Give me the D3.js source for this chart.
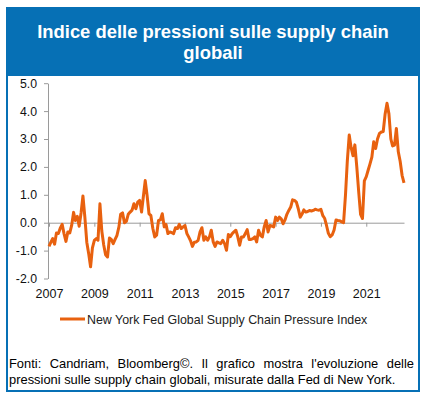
<!DOCTYPE html>
<html>
<head>
<meta charset="utf-8">
<script src="https://cdn.jsdelivr.net/npm/d3@7"></script>
<style>
  body { margin: 0; background: #fff; }
  text { font-family: "Liberation Sans", Arial, sans-serif; }
</style>
</head>
<body>
<svg id="chart" width="426" height="399"></svg>
<script>
// --- Data: NY Fed GSCPI, monthly from Jan 2007 ---
const startDate = new Date(2007, 0, 1);
const gscpi = [
  -0.85, -0.70, -0.57, -0.77, -0.37, -0.39, -0.20, -0.06, -0.40, -0.67, -0.33, -0.37,
  -0.10, 0.37, 0.08, 0.23, -0.13, 0.35, 0.96, 0.20, -0.70, -1.10, -1.58, -0.90,
  -0.63, -0.57, -0.63, 0.68, -0.30, -0.80, -1.15, -1.23, -0.55, -0.60, -0.75, -0.60,
  -0.45, -0.15, 0.30, 0.35, 0.00, 0.05, 0.30, 0.38, 0.45, 0.68, 0.50, 0.74,
  0.80, 0.38, 0.92, 1.51, 0.98, 0.32, 0.26, -0.20, -0.51, -0.45, 0.08, 0.10,
  0.32, -0.15, -0.06, -0.39, -0.33, -0.36, -0.39, -0.18, -0.21, -0.06, -0.21, -0.15,
  -0.10, -0.39, -0.51, -0.65, -0.85, -0.70, -0.69, -0.63, -0.33, -0.18, -0.63, -0.51,
  -0.63, -0.50, -0.27, -0.69, -0.85, -0.69, -0.72, -0.75, -0.63, -0.75, -0.99, -0.42,
  -0.50, -0.39, -0.33, -0.27, -0.50, -0.81, -0.51, -0.51, -0.39, -0.25, -0.60, -0.60,
  -0.57, -0.51, -0.69, -0.27, -0.45, -0.51, -0.15, 0.08, -0.33, -0.10, -0.12, -0.15,
  0.20, 0.08, 0.20, 0.14, -0.04, 0.10, 0.30, 0.44, 0.56, 0.82, 0.80, 0.74,
  0.50, 0.20, 0.30, 0.46, 0.38, 0.40, 0.44, 0.42, 0.44, 0.48, 0.46, 0.45,
  0.48, 0.25, 0.16, -0.10, -0.38, -0.50, -0.44, -0.26, 0.10, 0.08, 0.07, 0.03,
  0.00, 1.00, 2.20, 3.14, 2.70, 2.40, 2.79, 2.00, 1.10, 0.30, 0.15, 1.50,
  1.65, 1.89, 2.10, 2.35, 2.90, 2.66, 3.00, 3.20, 3.25, 3.27, 3.90, 4.28,
  3.90, 3.00, 2.75, 2.78, 3.38, 2.54, 2.20, 1.70, 1.43
];
const yTicks = [-2, -1, 0, 1, 2, 3, 4, 5];
const xTickYears = [2007, 2009, 2011, 2013, 2015, 2017, 2019, 2021];

const titleLines = ["Indice delle pressioni sulle supply chain", "globali"];
const legendLabel = "New York Fed Global Supply Chain Pressure Index";
const sourceLines = [
  "Fonti: Candriam, Bloomberg\u00A9. Il grafico mostra l'evoluzione delle",
  "pressioni sulle supply chain globali, misurate dalla Fed di New York."
];

const blue = "#0670b5";
const orange = "#e8610f";
const axisGrey = "#9a9a9a";

const series = gscpi.map((v, i) => ({ date: d3.timeMonth.offset(startDate, i), value: v }));

const svg = d3.select("#chart");

// frame + title bar
svg.append("rect")
  .attr("x", 7).attr("y", 8).attr("width", 412).attr("height", 383)
  .attr("fill", "#fff").attr("stroke", blue).attr("stroke-width", 2);
svg.append("rect")
  .attr("x", 7).attr("y", 8).attr("width", 412).attr("height", 68)
  .attr("fill", blue);

svg.selectAll(".title")
  .data(titleLines).enter().append("text")
  .attr("class", "title")
  .attr("x", 213).attr("y", (d, i) => 38 + i * 21)
  .attr("text-anchor", "middle")
  .attr("fill", "#fff")
  .attr("font-weight", "bold")
  .attr("font-size", "18.4px")
  .text(d => d);

// --- Scales ---
const x = d3.scaleTime()
  .domain([startDate, series[series.length - 1].date])
  .range([49, 404]);
const y = d3.scaleLinear().domain([-2, 5]).range([278.5, 83.2]);

// y axis
const yAxis = svg.append("g")
  .attr("transform", "translate(48,0)")
  .call(d3.axisLeft(y).tickValues(yTicks).tickFormat(d => d.toFixed(1)).tickSize(4).tickSizeOuter(0).tickPadding(7));
yAxis.select(".domain").attr("stroke", axisGrey);
yAxis.selectAll(".tick line").attr("stroke", axisGrey);
yAxis.selectAll("text").attr("font-size", "12.3px").attr("fill", "#111")
  .style("font-family", '"Liberation Sans", Arial, sans-serif');

// x axis sits on zero
const xAxis = svg.append("g")
  .attr("transform", `translate(0,${y(0)})`)
  .call(d3.axisBottom(x)
    .tickValues(xTickYears.map(yr => new Date(yr, 0, 1)))
    .tickFormat(d3.timeFormat("%Y"))
    .tickSize(4).tickSizeOuter(0).tickPadding(62));
xAxis.select(".domain").attr("stroke", axisGrey);
xAxis.selectAll(".tick line").attr("stroke", axisGrey);
xAxis.selectAll("text").attr("font-size", "12.5px").attr("fill", "#111")
  .style("font-family", '"Liberation Sans", Arial, sans-serif');

// line
const line = d3.line().x(d => x(d.date)).y(d => y(d.value));
svg.append("path")
  .datum(series)
  .attr("d", line)
  .attr("fill", "none")
  .attr("stroke", orange)
  .attr("stroke-width", 3)
  .attr("stroke-linejoin", "round");

// legend
svg.append("line")
  .attr("x1", 60).attr("x2", 85).attr("y1", 319).attr("y2", 319)
  .attr("stroke", orange).attr("stroke-width", 3);
svg.append("text")
  .attr("x", 87).attr("y", 323.5)
  .attr("font-size", "12.4px").attr("fill", "#222")
  .text(legendLabel);

// source note, first line justified
const srcLeft = 9, srcRight = 414;
sourceLines.forEach((str, li) => {
  const yy = 368 + li * 15.5;
  if (li === sourceLines.length - 1) {
    svg.append("text").attr("x", srcLeft).attr("y", yy)
      .attr("font-size", "12.9px").attr("fill", "#000").text(str);
    return;
  }
  const words = str.split(" ");
  const t = svg.append("text").attr("y", yy).attr("font-size", "12.9px").attr("fill", "#000");
  const widths = words.map(w => {
    const tmp = t.append("tspan").text(w);
    const wd = tmp.node().getComputedTextLength();
    tmp.remove();
    return wd;
  });
  const gap = (srcRight - srcLeft - d3.sum(widths)) / (words.length - 1);
  let cx = srcLeft;
  words.forEach((w, i) => {
    t.append("tspan").attr("x", cx).text(w);
    cx += widths[i] + gap;
  });
});
</script>
</body>
</html>
